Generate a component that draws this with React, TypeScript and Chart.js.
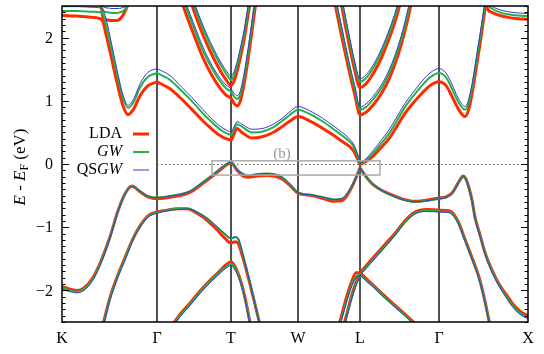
import React, { useEffect, useRef } from 'react';
import { Chart, registerables } from 'chart.js';
Chart.register(...registerables);

// High-symmetry k-points (path coordinate) and labels
const KPOS = [0, 95, 169, 236, 298, 377, 466];
const KLABELS = ['K', 'Γ', 'T', 'W', 'L', 'Γ', 'X'];
const YTICKS = [-2, -1, 0, 1, 2];
const YTICK_LABELS = ['−2', '−1', '0', '1', '2'];

// ---- Conduction bands ----
const cKU_x = [38, 41, 45, 50, 55, 60, 64, 68, 72];
const cKU_lda = [2.7, 2.31, 2.28, 2.27, 2.27, 2.33, 2.45, 2.62, 2.8];
const cKU_gw = [2.8, 2.43, 2.4, 2.39, 2.39, 2.41, 2.46, 2.55, 2.7];
const cKU_qs = [2.85, 2.5, 2.47, 2.46, 2.46, 2.47, 2.5, 2.57, 2.72];

const cKG_x = [0, 15, 30, 38, 41, 44, 48, 55, 61, 66, 72, 78, 86, 95];
const cKG_lda = [2.35, 2.34, 2.32, 2.3, 2.25, 2.05, 1.78, 1.29, 0.92, 0.78, 0.88, 1.08, 1.24, 1.3];
const cKG_gw = [2.42, 2.42, 2.41, 2.4, 2.37, 2.2, 1.93, 1.42, 1.04, 0.89, 0.99, 1.21, 1.38, 1.44];
const cKG_qs = [2.49, 2.49, 2.48, 2.47, 2.44, 2.3, 2.02, 1.49, 1.09, 0.93, 1.04, 1.27, 1.45, 1.51];

const cGW_x = [95, 108, 120, 130, 141, 150, 158, 164, 169, 172, 175, 180, 190, 200, 210, 220, 228, 236, 248, 260, 270, 280, 288, 292, 295, 298];
const cGW_lda = [1.3, 1.19, 1.02, 0.86, 0.68, 0.55, 0.45, 0.4, 0.38, 0.47, 0.56, 0.5, 0.41, 0.43, 0.49, 0.59, 0.68, 0.75, 0.68, 0.57, 0.47, 0.36, 0.27, 0.2, 0.1, -0.01];
const cGW_gw = [1.44, 1.33, 1.15, 0.99, 0.8, 0.66, 0.55, 0.49, 0.46, 0.55, 0.63, 0.59, 0.5, 0.51, 0.57, 0.68, 0.78, 0.86, 0.79, 0.68, 0.57, 0.45, 0.35, 0.27, 0.16, 0.0];
const cGW_qs = [1.51, 1.4, 1.21, 1.05, 0.86, 0.71, 0.6, 0.54, 0.51, 0.59, 0.67, 0.63, 0.55, 0.56, 0.62, 0.72, 0.83, 0.91, 0.84, 0.73, 0.62, 0.5, 0.39, 0.3, 0.18, 0.01];

const cLG_x = [298, 304, 310, 318, 327, 335, 343, 352, 360, 368, 377, 384, 390, 396, 403, 407, 411, 415, 419, 423, 427];
const cLG_lda = [-0.01, 0.04, 0.11, 0.24, 0.4, 0.6, 0.8, 0.98, 1.12, 1.24, 1.3, 1.24, 1.07, 0.88, 0.75, 0.88, 1.2, 1.6, 2.0, 2.45, 2.85];
const cLG_gw = [0.0, 0.06, 0.15, 0.3, 0.48, 0.69, 0.9, 1.09, 1.24, 1.37, 1.44, 1.37, 1.19, 0.99, 0.86, 0.99, 1.3, 1.7, 2.1, 2.52, 2.92];
const cLG_qs = [0.01, 0.08, 0.19, 0.35, 0.54, 0.75, 0.96, 1.15, 1.31, 1.44, 1.51, 1.44, 1.26, 1.05, 0.91, 1.04, 1.35, 1.75, 2.15, 2.57, 2.97];

const cX_x = [422, 425, 430, 438, 446, 456, 466];
const cX_lda = [2.75, 2.47, 2.4, 2.35, 2.32, 2.3, 2.29];
const cX_gw = [2.8, 2.55, 2.46, 2.4, 2.37, 2.35, 2.34];
const cX_qs = [2.85, 2.6, 2.5, 2.44, 2.41, 2.39, 2.38];

const cTo_x = [119, 125, 131, 141, 150, 158, 164, 169, 172, 175, 178, 182, 186, 190, 195];
const cTo_lda = [2.6, 2.33, 2.08, 1.68, 1.4, 1.2, 1.09, 1.04, 0.96, 0.92, 0.98, 1.26, 1.65, 2.1, 2.7];
const cTo_gw = [2.7, 2.44, 2.19, 1.79, 1.51, 1.31, 1.2, 1.14, 1.07, 1.03, 1.09, 1.37, 1.76, 2.21, 2.81];
const cTo_qs = [2.76, 2.5, 2.25, 1.85, 1.56, 1.36, 1.25, 1.19, 1.12, 1.08, 1.14, 1.42, 1.81, 2.26, 2.86];

const cTi_x = [128, 134, 140, 148, 155, 160, 165, 169, 172, 175, 178, 182, 186, 190];
const cTi_lda = [2.6, 2.33, 2.08, 1.79, 1.57, 1.43, 1.31, 1.24, 1.31, 1.46, 1.66, 1.96, 2.35, 2.75];
const cTi_gw = [2.7, 2.43, 2.18, 1.89, 1.67, 1.53, 1.41, 1.33, 1.4, 1.55, 1.75, 2.05, 2.44, 2.84];
const cTi_qs = [2.75, 2.48, 2.23, 1.94, 1.72, 1.58, 1.46, 1.39, 1.46, 1.61, 1.81, 2.11, 2.5, 2.9];

const cLo_x = [271, 276, 281, 287, 293, 298, 304, 312, 320, 328, 336, 342, 348, 352];
const cLo_lda = [2.7, 2.3, 1.92, 1.48, 1.08, 0.78, 0.82, 0.95, 1.13, 1.38, 1.72, 2.05, 2.45, 2.75];
const cLo_gw = [2.8, 2.4, 2.02, 1.57, 1.17, 0.86, 0.9, 1.04, 1.22, 1.47, 1.81, 2.14, 2.54, 2.84];
const cLo_qs = [2.85, 2.45, 2.07, 1.62, 1.22, 0.9, 0.95, 1.09, 1.27, 1.52, 1.86, 2.19, 2.59, 2.89];

const cLi_x = [277, 282, 287, 292, 298, 304, 312, 320, 328, 334, 340];
const cLi_lda = [2.75, 2.3, 1.9, 1.53, 1.21, 1.27, 1.45, 1.7, 2.02, 2.3, 2.65];
const cLi_gw = [2.85, 2.4, 2.0, 1.62, 1.3, 1.36, 1.54, 1.79, 2.11, 2.39, 2.74];
const cLi_qs = [2.9, 2.45, 2.05, 1.67, 1.35, 1.41, 1.59, 1.84, 2.16, 2.44, 2.79];

// ---- Valence bands ----
const v1a_x = [0, 8, 15, 22, 30, 38, 48, 56, 63, 70, 78, 86, 95, 111, 128, 138, 150, 160, 169, 175, 180, 186, 195, 205, 218, 228, 236, 250, 262, 272, 280, 288, 294, 298];
const v1a_lda = [-1.94, -1.98, -2.0, -1.96, -1.82, -1.57, -1.15, -0.74, -0.47, -0.35, -0.44, -0.52, -0.55, -0.52, -0.45, -0.34, -0.2, -0.07, 0.02, -0.1, -0.18, -0.21, -0.19, -0.18, -0.22, -0.34, -0.46, -0.5, -0.55, -0.59, -0.58, -0.42, -0.22, -0.06];
const v1a_gw = [-1.96, -2.0, -2.02, -1.98, -1.84, -1.59, -1.16, -0.74, -0.47, -0.35, -0.43, -0.51, -0.53, -0.5, -0.43, -0.32, -0.18, -0.05, 0.03, -0.08, -0.15, -0.18, -0.16, -0.15, -0.19, -0.32, -0.45, -0.49, -0.53, -0.56, -0.55, -0.4, -0.21, -0.06];
const v1a_qs = [-1.98, -2.02, -2.04, -2.0, -1.86, -1.61, -1.17, -0.75, -0.48, -0.36, -0.43, -0.51, -0.53, -0.5, -0.43, -0.32, -0.18, -0.05, 0.03, -0.08, -0.15, -0.18, -0.16, -0.15, -0.19, -0.32, -0.45, -0.49, -0.53, -0.56, -0.55, -0.4, -0.21, -0.06];

const v1b_x = [298, 304, 310, 320, 330, 342, 353, 365, 377, 384, 390, 395, 398, 401, 404, 407, 410, 413, 418, 423, 430, 437, 444, 450, 458, 466];
const v1b_lda = [-0.06, -0.2, -0.31, -0.42, -0.49, -0.56, -0.59, -0.57, -0.54, -0.52, -0.46, -0.33, -0.25, -0.19, -0.24, -0.38, -0.57, -0.84, -1.12, -1.4, -1.68, -1.9, -2.06, -2.2, -2.33, -2.4];
const v1b_gw = [-0.06, -0.2, -0.31, -0.42, -0.5, -0.57, -0.6, -0.58, -0.55, -0.53, -0.47, -0.34, -0.26, -0.2, -0.25, -0.39, -0.58, -0.85, -1.13, -1.41, -1.7, -1.92, -2.09, -2.23, -2.36, -2.43];
const v1b_qs = [-0.06, -0.2, -0.31, -0.42, -0.5, -0.57, -0.6, -0.58, -0.55, -0.53, -0.47, -0.34, -0.26, -0.2, -0.25, -0.39, -0.58, -0.86, -1.14, -1.42, -1.71, -1.93, -2.11, -2.25, -2.38, -2.45];

const v2a_x = [40, 44, 48, 55, 63, 71, 78, 86, 95, 105, 115, 125, 135, 145, 155, 162, 169, 173, 176, 179, 183, 188, 193, 198];
const v2a_lda = [-2.6, -2.35, -2.11, -1.79, -1.48, -1.18, -0.98, -0.82, -0.76, -0.73, -0.71, -0.71, -0.78, -0.89, -1.04, -1.16, -1.25, -1.23, -1.25, -1.38, -1.6, -1.9, -2.22, -2.55];
const v2a_gw = [-2.62, -2.37, -2.13, -1.81, -1.5, -1.19, -0.99, -0.83, -0.77, -0.73, -0.71, -0.71, -0.76, -0.86, -1.0, -1.1, -1.18, -1.16, -1.18, -1.32, -1.56, -1.88, -2.21, -2.55];
const v2a_qs = [-2.64, -2.39, -2.15, -1.83, -1.52, -1.2, -1.0, -0.84, -0.78, -0.74, -0.72, -0.71, -0.76, -0.86, -0.99, -1.09, -1.17, -1.15, -1.17, -1.31, -1.56, -1.88, -2.22, -2.56];

const v3_x = [108, 118, 128, 138, 148, 156, 163, 169, 173, 177, 181, 185, 189];
const v3_lda = [-2.6, -2.38, -2.2, -2.01, -1.84, -1.72, -1.61, -1.55, -1.62, -1.77, -1.98, -2.26, -2.6];
const v3_gw = [-2.62, -2.4, -2.22, -2.03, -1.86, -1.74, -1.64, -1.58, -1.65, -1.79, -2.0, -2.28, -2.62];
const v3_qs = [-2.64, -2.42, -2.24, -2.05, -1.88, -1.76, -1.66, -1.61, -1.68, -1.81, -2.02, -2.3, -2.64];

const vLa_x = [276, 280, 285, 290, 294, 298];
const vLa_lda = [-2.6, -2.37, -2.08, -1.85, -1.72, -1.72];
const vLa_gw = [-2.64, -2.42, -2.14, -1.9, -1.78, -1.75];
const vLa_qs = [-2.66, -2.44, -2.16, -1.92, -1.8, -1.76];

const vLb_x = [281, 285, 289, 293, 296, 298];
const vLb_lda = [-2.6, -2.36, -2.12, -1.92, -1.8, -1.74];
const vLb_gw = [-2.63, -2.39, -2.15, -1.95, -1.83, -1.76];
const vLb_qs = [-2.65, -2.41, -2.17, -1.97, -1.85, -1.77];

const vLc_x = [298, 310, 322, 334, 344, 354];
const vLc_lda = [-1.72, -1.9, -2.08, -2.25, -2.39, -2.54];
const vLc_gw = [-1.75, -1.92, -2.1, -2.27, -2.41, -2.56];
const vLc_qs = [-1.76, -1.93, -2.11, -2.28, -2.42, -2.57];

const v2b_x = [298, 308, 317, 326, 334, 343, 353, 365, 377, 387, 392, 397, 403, 410, 417, 422, 428];
const v2b_lda = [-1.72, -1.54, -1.38, -1.22, -1.08, -0.9, -0.76, -0.72, -0.73, -0.74, -0.8, -0.94, -1.19, -1.48, -1.79, -2.1, -2.55];
const v2b_gw = [-1.75, -1.57, -1.41, -1.25, -1.1, -0.92, -0.78, -0.74, -0.75, -0.76, -0.82, -0.96, -1.21, -1.5, -1.81, -2.12, -2.57];
const v2b_qs = [-1.76, -1.58, -1.42, -1.26, -1.11, -0.93, -0.79, -0.75, -0.76, -0.77, -0.83, -0.97, -1.22, -1.51, -1.82, -2.13, -2.58];

const SEGMENTS = [
  { x: cKU_x, lda: cKU_lda, gw: cKU_gw, qs: cKU_qs },
  { x: cKG_x, lda: cKG_lda, gw: cKG_gw, qs: cKG_qs },
  { x: cGW_x, lda: cGW_lda, gw: cGW_gw, qs: cGW_qs },
  { x: cLG_x, lda: cLG_lda, gw: cLG_gw, qs: cLG_qs },
  { x: cX_x, lda: cX_lda, gw: cX_gw, qs: cX_qs },
  { x: cTo_x, lda: cTo_lda, gw: cTo_gw, qs: cTo_qs },
  { x: cTi_x, lda: cTi_lda, gw: cTi_gw, qs: cTi_qs },
  { x: cLo_x, lda: cLo_lda, gw: cLo_gw, qs: cLo_qs },
  { x: cLi_x, lda: cLi_lda, gw: cLi_gw, qs: cLi_qs },
  { x: v1a_x, lda: v1a_lda, gw: v1a_gw, qs: v1a_qs },
  { x: v1b_x, lda: v1b_lda, gw: v1b_gw, qs: v1b_qs },
  { x: v2a_x, lda: v2a_lda, gw: v2a_gw, qs: v2a_qs },
  { x: v3_x, lda: v3_lda, gw: v3_gw, qs: v3_qs },
  { x: vLa_x, lda: vLa_lda, gw: vLa_gw, qs: vLa_qs },
  { x: vLb_x, lda: vLb_lda, gw: vLb_gw, qs: vLb_qs },
  { x: vLc_x, lda: vLc_lda, gw: vLc_gw, qs: vLc_qs },
  { x: v2b_x, lda: v2b_lda, gw: v2b_gw, qs: v2b_qs },
];

const METHODS = [
  { key: 'lda', label: 'LDA', color: '#ff2a00', width: 3, order: 3 },
  { key: 'gw', label: 'GW', color: '#22b24c', width: 2, order: 2 },
  { key: 'qs', label: 'QSGW', color: '#3a3acc', width: 1, order: 1 },
];

const SERIF = '"Liberation Serif", "DejaVu Serif", serif';

const decoPlugin = {
  id: 'deco',
  beforeDatasetsDraw(chart: any) {
    const { ctx, chartArea: a, scales } = chart;
    const x = scales.x, y = scales.y;
    ctx.save();
    ctx.strokeStyle = '#1a1a1a';
    ctx.lineWidth = 1.5;
    KPOS.slice(1, -1).forEach((k) => {
      const px = x.getPixelForValue(k);
      ctx.beginPath();
      ctx.moveTo(px, a.top);
      ctx.lineTo(px, a.bottom);
      ctx.stroke();
    });
    // Fermi level dotted line
    const y0 = Math.round(y.getPixelForValue(0)) + 0.5;
    ctx.strokeStyle = '#555';
    ctx.lineWidth = 1;
    ctx.setLineDash([1.5, 2.5]);
    ctx.beginPath();
    ctx.moveTo(x.getPixelForValue(KPOS[1]), y0);
    ctx.lineTo(a.right, y0);
    ctx.stroke();
    ctx.restore();
  },
  afterDatasetsDraw(chart: any) {
    const { ctx, chartArea: a, scales } = chart;
    const x = scales.x, y = scales.y;
    ctx.save();
    // (b) box
    ctx.strokeStyle = '#aaaaaa';
    ctx.lineWidth = 1.5;
    const bx1 = x.getPixelForValue(150), bx2 = x.getPixelForValue(318);
    const by1 = y.getPixelForValue(0.05), by2 = y.getPixelForValue(-0.175);
    ctx.strokeRect(bx1, by1, bx2 - bx1, by2 - by1);
    ctx.fillStyle = '#999';
    ctx.font = `15px ${SERIF}`;
    ctx.textAlign = 'center';
    ctx.textBaseline = 'middle';
    ctx.fillText('(b)', x.getPixelForValue(220), y.getPixelForValue(0.16));

    // frame
    ctx.strokeStyle = '#000';
    ctx.lineWidth = 1.5;
    ctx.strokeRect(a.left, a.top, a.right - a.left, a.bottom - a.top);

    // y ticks, inward on both sides
    ctx.lineWidth = 1;
    for (let i = -25; i <= 25; i++) {
      const v = i / 10;
      const py = Math.round(y.getPixelForValue(v)) + 0.5;
      const len = i % 10 === 0 ? 7 : 3.5;
      ctx.beginPath();
      ctx.moveTo(a.left, py);
      ctx.lineTo(a.left + len, py);
      ctx.moveTo(a.right, py);
      ctx.lineTo(a.right - len, py);
      ctx.stroke();
    }

    // y tick labels
    ctx.fillStyle = '#000';
    ctx.font = `16px ${SERIF}`;
    ctx.textAlign = 'right';
    ctx.textBaseline = 'middle';
    YTICKS.forEach((v, i) => {
      ctx.fillText(YTICK_LABELS[i], a.left - 9, y.getPixelForValue(v) + 1);
    });

    // x labels
    ctx.textAlign = 'center';
    ctx.textBaseline = 'middle';
    KPOS.forEach((k, i) => {
      ctx.fillText(KLABELS[i], x.getPixelForValue(k), a.bottom + 17);
    });

    // y axis title: E - E_F (eV)
    ctx.save();
    ctx.translate(21, (a.top + a.bottom) / 2 + 3);
    ctx.rotate(-Math.PI / 2);
    ctx.textAlign = 'left';
    ctx.textBaseline = 'middle';
    const it = `italic 17px ${SERIF}`, rm = `17px ${SERIF}`, sub = `12px ${SERIF}`;
    const parts = [
      { t: 'E', f: it, dy: 0 },
      { t: ' - ', f: rm, dy: 0 },
      { t: 'E', f: it, dy: 0 },
      { t: 'F', f: sub, dy: 4 },
      { t: ' (eV)', f: rm, dy: 0 },
    ];
    let total = 0;
    parts.forEach((p) => { ctx.font = p.f; total += ctx.measureText(p.t).width; });
    let cx = -total / 2;
    parts.forEach((p) => {
      ctx.font = p.f;
      ctx.fillText(p.t, cx, p.dy);
      cx += ctx.measureText(p.t).width;
    });
    ctx.restore();

    // legend
    const rows = [
      { pre: 'LDA', it: '', y: 134 },
      { pre: '', it: 'GW', y: 152 },
      { pre: 'QS', it: 'GW', y: 170 },
    ];
    const tx = 122;
    ctx.textAlign = 'right';
    ctx.textBaseline = 'middle';
    rows.forEach((r, i) => {
      let rx = tx;
      if (r.it) {
        ctx.font = `italic 16px ${SERIF}`;
        ctx.fillText(r.it, rx, r.y);
        rx -= ctx.measureText(r.it).width;
      }
      if (r.pre) {
        ctx.font = `16px ${SERIF}`;
        ctx.fillText(r.pre, rx, r.y);
      }
      const m = METHODS[i];
      ctx.strokeStyle = m.color;
      ctx.lineWidth = m.width;
      ctx.beginPath();
      ctx.moveTo(133, r.y);
      ctx.lineTo(149, r.y);
      ctx.stroke();
    });
    ctx.restore();
  },
};

export default function App() {
  const ref = useRef<HTMLCanvasElement | null>(null);
  useEffect(() => {
    const datasets: any[] = [];
    SEGMENTS.forEach((s: any) => {
      METHODS.forEach((m) => {
        datasets.push({
          label: m.label,
          data: s.x.map((xv: number, i: number) => ({ x: xv, y: s[m.key][i] })),
          borderColor: m.color,
          borderWidth: m.width,
          pointRadius: 0,
          fill: false,
          cubicInterpolationMode: 'monotone',
          clip: 0,
          order: m.order,
        });
      });
    });
    const chart = new Chart(ref.current as HTMLCanvasElement, {
      type: 'line',
      data: { datasets },
      options: {
        responsive: false,
        animation: false,
        devicePixelRatio: 1,
        layout: { padding: { left: 62, right: 16, top: 6, bottom: 32 } },
        scales: {
          x: { type: 'linear', min: 0, max: 466, display: false },
          y: { type: 'linear', min: -2.5, max: 2.5, display: false },
        },
        plugins: { legend: { display: false }, tooltip: { enabled: false } },
        events: [],
      },
      plugins: [decoPlugin],
    } as any);
    return () => chart.destroy();
  }, []);
  return (
    <div style={{ position: 'fixed', left: 0, top: 0, width: 544, height: 354, background: '#fff' }}>
      <canvas ref={ref} width={544} height={354} style={{ display: 'block' }} />
    </div>
  );
}
